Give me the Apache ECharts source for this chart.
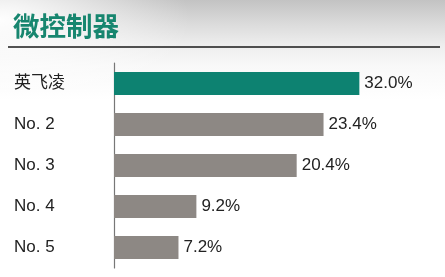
<!DOCTYPE html>
<html>
<head>
<meta charset="utf-8">
<script src="https://cdn.jsdelivr.net/npm/echarts@6/dist/echarts.min.js"></script>
<style>
html,body{margin:0;padding:0;}
body{width:445px;height:277px;overflow:hidden;
background:
 radial-gradient(ellipse 190px 90px at 0px 20px, rgba(255,255,255,0.97), rgba(255,255,255,0) 100%),
 linear-gradient(to bottom, #c3c3c3 0px, #dcdcdc 25px, #eeeeee 45px, #f8f8f8 65px, #ffffff 100px);}
#c{width:445px;height:277px;}
</style>
</head>
<body>
<div id="c"></div>
<script>
const titleText = '微控制器';
const categories = ['英飞凌', 'No. 2', 'No. 3', 'No. 4', 'No. 5'];
const values = [32.0, 23.4, 20.4, 9.2, 7.2];
const barColors = ['#0d8271', '#8d8884', '#8d8884', '#8d8884', '#8d8884'];

const chart = echarts.init(document.getElementById('c'), null, {renderer: 'canvas'});
chart.setOption({
  backgroundColor: 'transparent',
  animation: false,
  title: {
    text: titleText, left: 8, top: 8,
    textStyle: {fontFamily: 'Noto Sans CJK SC', fontSize: 26.5, fontWeight: 'bold', color: '#17866f'}
  },
  graphic: [{
    type: 'line', shape: {x1: 8, y1: 47, x2: 440, y2: 47},
    style: {stroke: '#1a1a1a', lineWidth: 1.5}
  }],
  grid: {left: 114, top: 63, bottom: 9, right: 14, containLabel: false},
  xAxis: {
    type: 'value', min: 0, max: 40,
    breaks: [{start: 25, end: 29.6, gap: 0}],
    breakArea: {show: false},
    axisLine: {show: false}, axisTick: {show: false}, axisLabel: {show: false}, splitLine: {show: false}
  },
  yAxis: {
    type: 'category', data: categories, inverse: true,
    axisLine: {show: true, lineStyle: {color: '#777777', width: 1.2}},
    axisTick: {show: false},
    axisLabel: {
      align: 'left', margin: 100,
      fontFamily: 'Liberation Sans, Noto Sans CJK SC', fontSize: 17, color: '#222222'
    }
  },
  series: [{
    type: 'bar', barWidth: 23,
    data: values.map((v, i) => ({value: v, itemStyle: {color: barColors[i]}})),
    label: {
      show: true, position: 'right', distance: 5,
      formatter: p => p.value.toFixed(1) + '%',
      fontFamily: 'Liberation Sans', fontSize: 17, color: '#222222'
    }
  }]
});
</script>
</body>
</html>
